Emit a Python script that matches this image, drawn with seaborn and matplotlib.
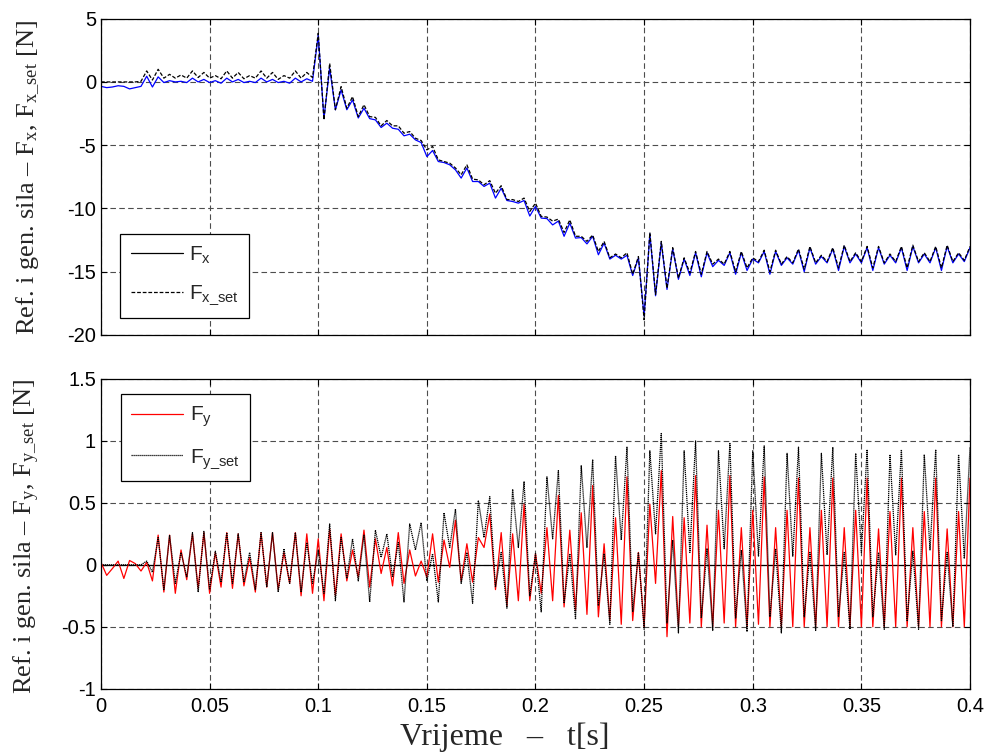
import numpy as np
import matplotlib
matplotlib.use('Agg')
import matplotlib.pyplot as plt
from matplotlib.lines import Line2D
import seaborn as sns

# time grid: one point per half-period of the ~190 Hz oscillation (0.4 s / 152)
t = np.linspace(0, 0.4, 153)

# top plot - measured force Fx (blue) and reference Fx_set (black dashed)
fx_set = [
    0, 0, 0, 0, 0, 0, 0, 0.05, 0.87, 0.15,
    1.0, 0.3, 0.6, 0.3, 0.55, 0.3, 0.87, 0.35, 0.75, 0.3,
    0.5, 0.25, 0.87, 0.3, 0.75, 0.25, 0.5, 0.3, 0.87, 0.3,
    0.75, 0.2, 0.5, 0.3, 0.87, 0.3, 0.75, 0.35, 3.85, -3.0,
    1.47, -2.2, -0.37, -2.08, -1.16, -2.74, -1.8, -2.74, -2.8, -3.47,
    -3.05, -3.47, -3.47, -4.05, -3.92, -4.45, -4.63, -5.37, -5.1, -6.16,
    -6.29, -6.42, -6.8, -7.34, -6.55, -7.68, -7.74, -8.13, -7.8, -8.8,
    -8.2, -9.3, -9.3, -9.45, -9.18, -10.24, -9.58, -10.63, -10.68, -11.0,
    -10.84, -11.9, -10.9, -12.2, -12.2, -12.6, -12.1, -13.4, -12.6, -13.9,
    -13.6, -13.9, -13.5, -15.2, -13.8, -18.8, -11.9, -16.8, -12.6, -16.3,
    -13.1, -15.5, -13.9, -15.1, -13.4, -15.2, -13.4, -14.4, -14.0, -14.4,
    -13.4, -15.0, -13.4, -14.7, -13.9, -14.2, -13.3, -15.0, -13.3, -14.4,
    -13.8, -14.3, -13.2, -14.8, -13.0, -14.3, -13.7, -14.2, -13.1, -14.7,
    -12.9, -14.2, -13.5, -14.2, -13.0, -14.7, -13.0, -14.3, -13.6, -14.2,
    -13.0, -14.7, -12.9, -14.2, -13.5, -14.2, -13.0, -14.7, -12.9, -14.2,
    -13.5, -14.1, -13.0,
]
fx = [
    -0.35, -0.45, -0.4, -0.3, -0.35, -0.55, -0.45, -0.35, 0.45, -0.4,
    0.4, -0.05, 0.1, 0.0, 0.05, -0.05, 0.3, 0.0, 0.2, -0.05,
    0.1, -0.1, 0.3, 0.0, 0.2, -0.05, 0.05, -0.05, 0.3, 0.0,
    0.2, -0.05, 0.05, -0.1, 0.3, 0.0, 0.25, 0.05, 3.7, -2.9,
    1.1, -2.2, -0.63, -2.2, -1.42, -2.85, -2.08, -2.9, -3.0, -3.6,
    -3.26, -3.66, -3.74, -4.26, -4.13, -4.58, -4.79, -5.9, -5.42, -6.29,
    -6.37, -6.55, -6.95, -7.6, -6.8, -7.87, -7.87, -8.26, -8.0, -9.18,
    -8.4, -9.37, -9.45, -9.58, -9.37, -10.6, -9.84, -10.76, -10.8, -11.3,
    -11.0, -12.2, -11.16, -12.34, -12.3, -12.8, -12.2, -13.66, -12.74, -14.0,
    -13.7, -14.0, -13.7, -15.3, -13.9, -18.5, -12.0, -16.9, -12.7, -16.4,
    -13.2, -15.6, -14.0, -15.3, -13.5, -15.4, -13.5, -14.6, -14.1, -14.5,
    -13.5, -15.2, -13.5, -14.9, -14.0, -14.3, -13.4, -15.2, -13.4, -14.5,
    -13.9, -14.4, -13.3, -15.0, -13.1, -14.4, -13.8, -14.3, -13.2, -14.9,
    -13.0, -14.3, -13.6, -14.3, -13.1, -14.9, -13.1, -14.4, -13.7, -14.3,
    -13.1, -14.9, -13.0, -14.3, -13.6, -14.3, -13.1, -14.9, -13.0, -14.3,
    -13.6, -14.2, -13.1,
]

# bottom plot - measured force Fy (red) and reference Fy_set (black dotted)
fy_set = [
    0, 0, 0, 0, 0, 0, 0, 0, 0.03, -0.06,
    0.22, -0.2, 0.24, -0.15, 0.1, -0.1, 0.26, -0.22, 0.27, -0.2,
    0.11, -0.14, 0.26, -0.15, 0.25, -0.14, 0.1, -0.2, 0.26, -0.18,
    0.26, -0.22, 0.13, -0.15, 0.26, -0.22, 0.18, -0.15, 0.12, -0.23,
    0.33, -0.29, 0.22, -0.11, 0.21, -0.13, 0.24, -0.3, 0.28, 0.06,
    0.25, -0.1, 0.18, -0.3, 0.33, 0.12, 0.34, -0.13, 0.09, -0.3,
    0.42, 0.14, 0.45, -0.15, 0.1, -0.31, 0.52, 0.22, 0.55, -0.18,
    0.1, -0.35, 0.61, 0.14, 0.67, -0.25, 0.09, -0.38, 0.71, 0.21,
    0.76, -0.31, 0.09, -0.44, 0.8, 0.14, 0.85, -0.33, 0.09, -0.48,
    0.88, 0.2, 0.95, -0.38, 0.1, -0.52, 0.92, 0.25, 1.06, -0.47,
    0.2, -0.55, 0.92, 0.1, 1.0, -0.43, 0.13, -0.53, 0.92, 0.13,
    0.98, -0.43, 0.12, -0.54, 0.92, 0.07, 0.96, -0.42, 0.13, -0.55,
    0.9, 0.07, 0.95, -0.42, 0.1, -0.53, 0.9, 0.08, 0.95, -0.42,
    0.1, -0.52, 0.9, 0.1, 0.93, -0.42, 0.1, -0.52, 0.89, 0.08,
    0.93, -0.45, 0.11, -0.52, 0.89, 0.12, 0.93, -0.45, 0.1, -0.5,
    0.89, 0.05, 0.95,
]
fy = [
    0.02, -0.085, -0.03, 0.03, -0.11, 0.035, 0.01, -0.05, 0.02, -0.13,
    0.24, -0.22, 0.24, -0.23, 0.12, -0.12, 0.25, -0.19, 0.26, -0.23,
    0.1, -0.18, 0.26, -0.19, 0.25, -0.17, 0.06, -0.22, 0.26, -0.18,
    0.26, -0.2, 0.1, -0.15, 0.26, -0.25, 0.25, -0.23, 0.21, -0.29,
    0.29, -0.25, 0.25, -0.13, 0.12, -0.1, 0.28, -0.18, 0.21, -0.07,
    0.14, -0.17, 0.26, -0.15, 0.12, -0.09, 0.03, -0.1, 0.25, -0.14,
    0.2, -0.02, 0.36, -0.13, 0.17, -0.14, 0.22, 0.14, 0.41, -0.2,
    0.26, -0.33, 0.25, -0.29, 0.49, -0.29, 0.09, -0.23, 0.3, -0.29,
    0.56, -0.34, 0.28, -0.37, 0.42, -0.4, 0.64, -0.42, 0.17, -0.45,
    0.38, -0.48, 0.71, -0.45, 0.1, -0.5, 0.49, -0.15, 0.76, -0.58,
    0.39, -0.5, 0.38, -0.47, 0.72, -0.5, 0.32, -0.5, 0.44, -0.47,
    0.72, -0.5, 0.3, -0.5, 0.44, -0.48, 0.71, -0.5, 0.3, -0.5,
    0.44, -0.5, 0.7, -0.5, 0.3, -0.5, 0.44, -0.5, 0.7, -0.5,
    0.3, -0.5, 0.44, -0.5, 0.7, -0.5, 0.29, -0.5, 0.43, -0.5,
    0.7, -0.5, 0.3, -0.5, 0.43, -0.5, 0.7, -0.5, 0.29, -0.5,
    0.43, -0.5, 0.7,
]

x_ticks = [0, 0.05, 0.1, 0.15, 0.2, 0.25, 0.3, 0.35, 0.4]
x_labels = ['0', '0.05', '0.1', '0.15', '0.2', '0.25', '0.3', '0.35', '0.4']
y1_ticks = [5, 0, -5, -10, -15, -20]
y2_ticks = [1.5, 1, 0.5, 0, -0.5, -1]
y2_labels = ['1.5', '1', '0.5', '0', '-0.5', '-1']

sns.set_style('ticks')
plt.rcParams['font.family'] = ['Liberation Sans', 'DejaVu Sans']
plt.rcParams['axes.unicode_minus'] = False
plt.rcParams['mathtext.fontset'] = 'custom'
plt.rcParams['mathtext.rm'] = 'Liberation Serif'
plt.rcParams['mathtext.it'] = 'Liberation Serif:italic'
plt.rcParams['mathtext.sf'] = 'Liberation Sans'

fig = plt.figure(figsize=(9.88, 7.56), dpi=100)
ax1 = fig.add_axes([0.1022, 0.5569, 0.8796, 0.4184])
ax2 = fig.add_axes([0.1022, 0.0890, 0.8796, 0.4097])

grid_kw = dict(color='0.3', linestyle=(0, (5, 3)), linewidth=0.8)
leg_kw = dict(loc='lower left', fontsize=15, fancybox=False, edgecolor='black',
              framealpha=1, borderaxespad=0, borderpad=0.5, handlelength=2.5,
              handletextpad=0.3, labelspacing=0.85)

# --- top: Fx ---
sns.lineplot(x=t, y=fx, ax=ax1, color='#0000ff', linewidth=0.9, estimator=None)
sns.lineplot(x=t, y=fx_set, ax=ax1, color='black', linewidth=0.9,
             linestyle=(0, (3, 1.5)), estimator=None)
ax1.set_xlim(0, 0.4)
ax1.set_ylim(-20, 5)
ax1.set_xticks(x_ticks)
ax1.set_xticklabels([])
ax1.set_yticks(y1_ticks)
ax1.grid(True, **grid_kw)
ax1.set_ylabel(r'Ref. i gen. sila – $\mathrm{F_x}$, $\mathrm{F_{x\_set}}$ [N]',
               fontfamily='Liberation Serif', fontsize=19)
ax1.yaxis.set_label_coords(-0.068, 0.498)
h1 = [Line2D([], [], color='black', linewidth=0.9),
      Line2D([], [], color='black', linewidth=0.9, linestyle=(0, (3, 1.5)))]
ax1.legend(h1, [r'$\mathsf{F_x}$', r'$\mathsf{F_{x\_set}}$'],
           bbox_to_anchor=(0.022, 0.054), **leg_kw)

# --- bottom: Fy ---
ax2.axhline(0, color='black', linewidth=0.9)
sns.lineplot(x=t, y=fy, ax=ax2, color='#ff0000', linewidth=0.9, estimator=None)
sns.lineplot(x=t, y=fy_set, ax=ax2, color='black', linewidth=0.9,
             linestyle=(0, (1, 0.6)), estimator=None)
ax2.set_xlim(0, 0.4)
ax2.set_ylim(-1, 1.5)
ax2.set_xticks(x_ticks)
ax2.set_xticklabels(x_labels)
ax2.set_yticks(y2_ticks)
ax2.set_yticklabels(y2_labels)
ax2.grid(True, **grid_kw)
ax2.set_ylabel(r'Ref. i gen. sila – $\mathrm{F_y}$, $\mathrm{F_{y\_set}}$ [N]',
               fontfamily='Liberation Serif', fontsize=19)
ax2.yaxis.set_label_coords(-0.068, 0.493)
ax2.set_xlabel('Vrijeme   –   t[s]', fontfamily='Liberation Serif', fontsize=23)
ax2.xaxis.set_label_coords(0.465, -0.11)
h2 = [Line2D([], [], color='#ff0000', linewidth=0.9),
      Line2D([], [], color='black', linewidth=0.9, linestyle=(0, (1, 0.6)))]
ax2.legend(h2, [r'$\mathsf{F_y}$', r'$\mathsf{F_{y\_set}}$'],
           bbox_to_anchor=(0.023, 0.67), **leg_kw)

for ax in (ax1, ax2):
    ax.tick_params(direction='in', length=4, width=0.8, labelsize=14.5,
                   top=True, right=True, colors='black')
    ax.tick_params(axis='x', pad=6)
    for sp in ax.spines.values():
        sp.set_visible(True)
        sp.set_color('black')
        sp.set_linewidth(0.9)
    ax.get_legend().get_frame().set_linewidth(0.9)

fig.savefig('out.png', dpi=100, facecolor='white')
